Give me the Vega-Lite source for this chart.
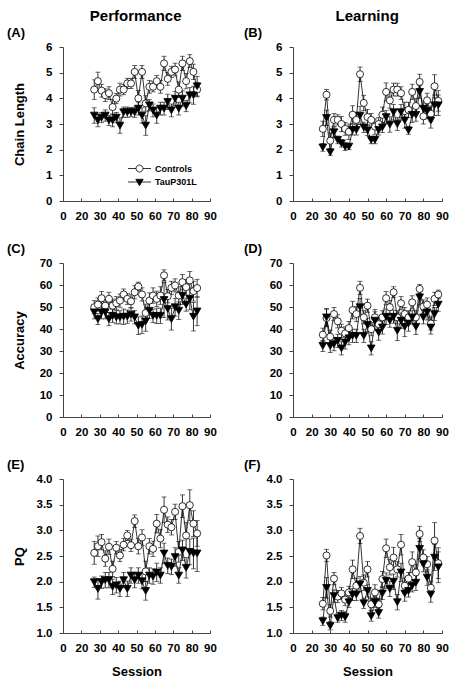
{
"$schema": "https://vega.github.io/schema/vega-lite/v6.json",
"autosize": {"type": "pad"},
"padding": {"left": 7, "top": 8, "right": 0, "bottom": 0},
"background": "white",
"config": {
 "view": {"stroke": null},
 "axis": {"grid": false, "domainColor": "#444", "tickColor": "#444", "domainWidth": 1, "tickWidth": 1, "labelFont": "Liberation Sans", "labelFontWeight": "bold", "labelFontSize": 11.5, "labelColor": "black", "titleFont": "Liberation Sans", "titleFontWeight": "bold", "titleFontSize": 13, "titleColor": "black", "labelOverlap": false},
 "axisX": {"tickSize": -3, "labelPadding": 12.5, "labelFlush": false},
 "axisY": {"tickSize": 4, "labelPadding": 7},
 "title": {"font": "Liberation Sans", "fontWeight": "bold", "color": "black"}
},
"datasets": {
 "A": [
  {"session":27,"group":"Controls","mean":4.34,"sem":0.38},{"session":29,"group":"Controls","mean":4.67,"sem":0.35},{"session":31,"group":"Controls","mean":4.30,"sem":0.25},{"session":33,"group":"Controls","mean":4.12,"sem":0.25},{"session":35,"group":"Controls","mean":4.20,"sem":0.25},{"session":37,"group":"Controls","mean":3.66,"sem":0.30},{"session":39,"group":"Controls","mean":3.99,"sem":0.20},{"session":41,"group":"Controls","mean":4.34,"sem":0.25},{"session":43,"group":"Controls","mean":4.34,"sem":0.20},{"session":45,"group":"Controls","mean":4.58,"sem":0.20},{"session":47,"group":"Controls","mean":4.58,"sem":0.20},{"session":49,"group":"Controls","mean":5.03,"sem":0.25},{"session":51,"group":"Controls","mean":4.00,"sem":0.30},{"session":53,"group":"Controls","mean":5.03,"sem":0.25},{"session":55,"group":"Controls","mean":3.80,"sem":0.30},{"session":57,"group":"Controls","mean":4.45,"sem":0.25},{"session":59,"group":"Controls","mean":4.45,"sem":0.20},{"session":61,"group":"Controls","mean":4.67,"sem":0.22},{"session":63,"group":"Controls","mean":4.45,"sem":0.25},{"session":65,"group":"Controls","mean":5.36,"sem":0.28},{"session":67,"group":"Controls","mean":4.76,"sem":0.25},{"session":69,"group":"Controls","mean":5.03,"sem":0.22},{"session":71,"group":"Controls","mean":5.12,"sem":0.25},{"session":73,"group":"Controls","mean":4.34,"sem":0.30},{"session":75,"group":"Controls","mean":5.36,"sem":0.28},{"session":77,"group":"Controls","mean":4.67,"sem":0.30},{"session":79,"group":"Controls","mean":5.45,"sem":0.25},{"session":81,"group":"Controls","mean":5.03,"sem":0.30},{"session":83,"group":"Controls","mean":4.34,"sem":0.28},
  {"session":27,"group":"TauP301L","mean":3.33,"sem":0.30},{"session":29,"group":"TauP301L","mean":3.14,"sem":0.25},{"session":31,"group":"TauP301L","mean":3.25,"sem":0.20},{"session":33,"group":"TauP301L","mean":3.33,"sem":0.22},{"session":35,"group":"TauP301L","mean":3.14,"sem":0.20},{"session":37,"group":"TauP301L","mean":3.14,"sem":0.25},{"session":39,"group":"TauP301L","mean":3.25,"sem":0.20},{"session":41,"group":"TauP301L","mean":2.94,"sem":0.30},{"session":43,"group":"TauP301L","mean":3.46,"sem":0.20},{"session":45,"group":"TauP301L","mean":3.46,"sem":0.20},{"session":47,"group":"TauP301L","mean":3.46,"sem":0.18},{"session":49,"group":"TauP301L","mean":3.46,"sem":0.20},{"session":51,"group":"TauP301L","mean":3.60,"sem":0.25},{"session":53,"group":"TauP301L","mean":3.33,"sem":0.30},{"session":55,"group":"TauP301L","mean":2.94,"sem":0.38},{"session":57,"group":"TauP301L","mean":3.73,"sem":0.22},{"session":59,"group":"TauP301L","mean":3.53,"sem":0.25},{"session":61,"group":"TauP301L","mean":3.33,"sem":0.30},{"session":63,"group":"TauP301L","mean":3.60,"sem":0.25},{"session":65,"group":"TauP301L","mean":3.60,"sem":0.25},{"session":67,"group":"TauP301L","mean":3.86,"sem":0.30},{"session":69,"group":"TauP301L","mean":3.53,"sem":0.25},{"session":71,"group":"TauP301L","mean":3.99,"sem":0.28},{"session":73,"group":"TauP301L","mean":3.60,"sem":0.25},{"session":75,"group":"TauP301L","mean":3.99,"sem":0.30},{"session":77,"group":"TauP301L","mean":3.70,"sem":0.22},{"session":79,"group":"TauP301L","mean":4.12,"sem":0.30},{"session":81,"group":"TauP301L","mean":4.12,"sem":0.35},{"session":83,"group":"TauP301L","mean":4.47,"sem":0.38}
 ],
 "B": [
  {"session":26,"group":"Controls","mean":2.81,"sem":0.30},{"session":28,"group":"Controls","mean":4.14,"sem":0.20},{"session":30,"group":"Controls","mean":2.35,"sem":0.30},{"session":32,"group":"Controls","mean":3.16,"sem":0.25},{"session":34,"group":"Controls","mean":3.16,"sem":0.20},{"session":36,"group":"Controls","mean":3.00,"sem":0.30},{"session":38,"group":"Controls","mean":2.81,"sem":0.25},{"session":40,"group":"Controls","mean":2.70,"sem":0.30},{"session":42,"group":"Controls","mean":3.36,"sem":0.35},{"session":44,"group":"Controls","mean":3.16,"sem":0.30},{"session":46,"group":"Controls","mean":4.94,"sem":0.28},{"session":48,"group":"Controls","mean":3.82,"sem":0.30},{"session":50,"group":"Controls","mean":3.27,"sem":0.30},{"session":52,"group":"Controls","mean":3.16,"sem":0.25},{"session":54,"group":"Controls","mean":2.90,"sem":0.30},{"session":56,"group":"Controls","mean":3.00,"sem":0.25},{"session":58,"group":"Controls","mean":3.36,"sem":0.30},{"session":60,"group":"Controls","mean":4.25,"sem":0.35},{"session":62,"group":"Controls","mean":3.92,"sem":0.30},{"session":64,"group":"Controls","mean":4.34,"sem":0.25},{"session":66,"group":"Controls","mean":4.34,"sem":0.25},{"session":68,"group":"Controls","mean":4.20,"sem":0.25},{"session":70,"group":"Controls","mean":3.50,"sem":0.35},{"session":72,"group":"Controls","mean":3.55,"sem":0.30},{"session":74,"group":"Controls","mean":4.25,"sem":0.30},{"session":76,"group":"Controls","mean":3.70,"sem":0.30},{"session":78,"group":"Controls","mean":4.64,"sem":0.30},{"session":80,"group":"Controls","mean":3.30,"sem":0.30},{"session":82,"group":"Controls","mean":3.92,"sem":0.28},{"session":84,"group":"Controls","mean":3.40,"sem":0.30},{"session":86,"group":"Controls","mean":4.47,"sem":0.45},{"session":88,"group":"Controls","mean":3.90,"sem":0.40},
  {"session":26,"group":"TauP301L","mean":2.09,"sem":0.15},{"session":28,"group":"TauP301L","mean":3.24,"sem":0.30},{"session":30,"group":"TauP301L","mean":1.90,"sem":0.12},{"session":32,"group":"TauP301L","mean":2.68,"sem":0.20},{"session":34,"group":"TauP301L","mean":2.38,"sem":0.15},{"session":36,"group":"TauP301L","mean":2.25,"sem":0.15},{"session":38,"group":"TauP301L","mean":2.12,"sem":0.15},{"session":40,"group":"TauP301L","mean":2.12,"sem":0.12},{"session":42,"group":"TauP301L","mean":2.77,"sem":0.20},{"session":44,"group":"TauP301L","mean":2.77,"sem":0.20},{"session":46,"group":"TauP301L","mean":3.33,"sem":0.35},{"session":48,"group":"TauP301L","mean":2.87,"sem":0.20},{"session":50,"group":"TauP301L","mean":2.75,"sem":0.20},{"session":52,"group":"TauP301L","mean":2.38,"sem":0.15},{"session":54,"group":"TauP301L","mean":2.38,"sem":0.15},{"session":56,"group":"TauP301L","mean":2.77,"sem":0.20},{"session":58,"group":"TauP301L","mean":2.87,"sem":0.20},{"session":60,"group":"TauP301L","mean":3.27,"sem":0.25},{"session":62,"group":"TauP301L","mean":2.98,"sem":0.30},{"session":64,"group":"TauP301L","mean":3.46,"sem":0.30},{"session":66,"group":"TauP301L","mean":3.00,"sem":0.25},{"session":68,"group":"TauP301L","mean":3.46,"sem":0.30},{"session":70,"group":"TauP301L","mean":3.14,"sem":0.30},{"session":72,"group":"TauP301L","mean":2.75,"sem":0.15},{"session":74,"group":"TauP301L","mean":3.36,"sem":0.30},{"session":76,"group":"TauP301L","mean":3.36,"sem":0.25},{"session":78,"group":"TauP301L","mean":4.25,"sem":0.25},{"session":80,"group":"TauP301L","mean":3.60,"sem":0.30},{"session":82,"group":"TauP301L","mean":3.50,"sem":0.30},{"session":84,"group":"TauP301L","mean":3.14,"sem":0.30},{"session":86,"group":"TauP301L","mean":3.73,"sem":0.40},{"session":88,"group":"TauP301L","mean":3.73,"sem":0.40}
 ],
 "C": [
  {"session":27,"group":"Controls","mean":49.9,"sem":3},{"session":29,"group":"Controls","mean":51.1,"sem":3},{"session":31,"group":"Controls","mean":54.0,"sem":3},{"session":33,"group":"Controls","mean":50.6,"sem":3},{"session":35,"group":"Controls","mean":53.7,"sem":3},{"session":37,"group":"Controls","mean":50.6,"sem":3},{"session":39,"group":"Controls","mean":51.7,"sem":3},{"session":41,"group":"Controls","mean":52.9,"sem":3},{"session":43,"group":"Controls","mean":55.7,"sem":2.5},{"session":45,"group":"Controls","mean":53.7,"sem":2.5},{"session":47,"group":"Controls","mean":52.6,"sem":3},{"session":49,"group":"Controls","mean":56.7,"sem":3},{"session":51,"group":"Controls","mean":59.3,"sem":2},{"session":53,"group":"Controls","mean":55.7,"sem":3},{"session":55,"group":"Controls","mean":47.3,"sem":4},{"session":57,"group":"Controls","mean":52.9,"sem":3.5},{"session":59,"group":"Controls","mean":55.2,"sem":3.5},{"session":61,"group":"Controls","mean":53.7,"sem":3.5},{"session":63,"group":"Controls","mean":55.2,"sem":4},{"session":65,"group":"Controls","mean":64.4,"sem":2.5},{"session":67,"group":"Controls","mean":54.9,"sem":3},{"session":69,"group":"Controls","mean":58.7,"sem":3},{"session":71,"group":"Controls","mean":59.8,"sem":3},{"session":73,"group":"Controls","mean":55.2,"sem":4},{"session":75,"group":"Controls","mean":61.3,"sem":3.5},{"session":77,"group":"Controls","mean":59.0,"sem":3.5},{"session":79,"group":"Controls","mean":62.1,"sem":4},{"session":81,"group":"Controls","mean":57.2,"sem":4.5},{"session":83,"group":"Controls","mean":58.6,"sem":4},
  {"session":27,"group":"TauP301L","mean":47.6,"sem":3},{"session":29,"group":"TauP301L","mean":44.5,"sem":2.5},{"session":31,"group":"TauP301L","mean":47.6,"sem":3},{"session":33,"group":"TauP301L","mean":47.6,"sem":3},{"session":35,"group":"TauP301L","mean":44.5,"sem":3},{"session":37,"group":"TauP301L","mean":46.0,"sem":3},{"session":39,"group":"TauP301L","mean":45.3,"sem":3},{"session":41,"group":"TauP301L","mean":45.3,"sem":3},{"session":43,"group":"TauP301L","mean":45.6,"sem":3.5},{"session":45,"group":"TauP301L","mean":45.6,"sem":3},{"session":47,"group":"TauP301L","mean":46.6,"sem":3},{"session":49,"group":"TauP301L","mean":45.3,"sem":3},{"session":51,"group":"TauP301L","mean":41.5,"sem":4},{"session":53,"group":"TauP301L","mean":41.9,"sem":4},{"session":55,"group":"TauP301L","mean":43.5,"sem":4.5},{"session":57,"group":"TauP301L","mean":48.3,"sem":3.5},{"session":59,"group":"TauP301L","mean":46.0,"sem":3},{"session":61,"group":"TauP301L","mean":46.0,"sem":3.5},{"session":63,"group":"TauP301L","mean":46.0,"sem":3.5},{"session":65,"group":"TauP301L","mean":53.2,"sem":8},{"session":67,"group":"TauP301L","mean":49.1,"sem":5},{"session":69,"group":"TauP301L","mean":44.5,"sem":5},{"session":71,"group":"TauP301L","mean":49.9,"sem":4},{"session":73,"group":"TauP301L","mean":48.3,"sem":4},{"session":75,"group":"TauP301L","mean":55.2,"sem":4},{"session":77,"group":"TauP301L","mean":51.1,"sem":3},{"session":79,"group":"TauP301L","mean":53.7,"sem":5},{"session":81,"group":"TauP301L","mean":45.6,"sem":6.5},{"session":83,"group":"TauP301L","mean":48.0,"sem":6.5}
 ],
 "D": [
  {"session":26,"group":"Controls","mean":37.4,"sem":3},{"session":28,"group":"Controls","mean":45.0,"sem":4},{"session":30,"group":"Controls","mean":36.5,"sem":3},{"session":32,"group":"Controls","mean":46.8,"sem":3},{"session":34,"group":"Controls","mean":43.5,"sem":3},{"session":36,"group":"Controls","mean":39.2,"sem":3},{"session":38,"group":"Controls","mean":38.0,"sem":3},{"session":40,"group":"Controls","mean":40.4,"sem":3},{"session":42,"group":"Controls","mean":48.6,"sem":4},{"session":44,"group":"Controls","mean":46.8,"sem":3.5},{"session":46,"group":"Controls","mean":58.7,"sem":3},{"session":48,"group":"Controls","mean":45.3,"sem":3},{"session":50,"group":"Controls","mean":50.6,"sem":3},{"session":52,"group":"Controls","mean":39.9,"sem":3},{"session":54,"group":"Controls","mean":45.3,"sem":3.5},{"session":56,"group":"Controls","mean":42.2,"sem":3},{"session":58,"group":"Controls","mean":45.3,"sem":3},{"session":60,"group":"Controls","mean":54.0,"sem":3},{"session":62,"group":"Controls","mean":49.9,"sem":3},{"session":64,"group":"Controls","mean":56.7,"sem":2.5},{"session":66,"group":"Controls","mean":45.3,"sem":3},{"session":68,"group":"Controls","mean":51.7,"sem":3},{"session":70,"group":"Controls","mean":46.8,"sem":3},{"session":72,"group":"Controls","mean":45.3,"sem":3},{"session":74,"group":"Controls","mean":52.1,"sem":3},{"session":76,"group":"Controls","mean":45.3,"sem":3},{"session":78,"group":"Controls","mean":58.2,"sem":2},{"session":80,"group":"Controls","mean":50.2,"sem":3},{"session":82,"group":"Controls","mean":51.1,"sem":3},{"session":84,"group":"Controls","mean":42.5,"sem":3},{"session":86,"group":"Controls","mean":53.7,"sem":3},{"session":88,"group":"Controls","mean":55.7,"sem":2},
  {"session":26,"group":"TauP301L","mean":32.3,"sem":2.5},{"session":28,"group":"TauP301L","mean":45.3,"sem":4},{"session":30,"group":"TauP301L","mean":32.3,"sem":3},{"session":32,"group":"TauP301L","mean":33.1,"sem":3},{"session":34,"group":"TauP301L","mean":34.6,"sem":3},{"session":36,"group":"TauP301L","mean":31.2,"sem":3},{"session":38,"group":"TauP301L","mean":33.9,"sem":3},{"session":40,"group":"TauP301L","mean":35.8,"sem":3},{"session":42,"group":"TauP301L","mean":36.9,"sem":3},{"session":44,"group":"TauP301L","mean":36.9,"sem":3},{"session":46,"group":"TauP301L","mean":49.9,"sem":4},{"session":48,"group":"TauP301L","mean":36.9,"sem":3},{"session":50,"group":"TauP301L","mean":41.9,"sem":3},{"session":52,"group":"TauP301L","mean":31.2,"sem":3},{"session":54,"group":"TauP301L","mean":43.8,"sem":4},{"session":56,"group":"TauP301L","mean":38.4,"sem":3.5},{"session":58,"group":"TauP301L","mean":40.7,"sem":3},{"session":60,"group":"TauP301L","mean":45.6,"sem":3.5},{"session":62,"group":"TauP301L","mean":43.8,"sem":3},{"session":64,"group":"TauP301L","mean":45.6,"sem":3},{"session":66,"group":"TauP301L","mean":39.2,"sem":4.5},{"session":68,"group":"TauP301L","mean":43.8,"sem":3.5},{"session":70,"group":"TauP301L","mean":41.0,"sem":4.5},{"session":72,"group":"TauP301L","mean":42.5,"sem":3.5},{"session":74,"group":"TauP301L","mean":45.3,"sem":3},{"session":76,"group":"TauP301L","mean":41.0,"sem":3.5},{"session":78,"group":"TauP301L","mean":54.4,"sem":3.5},{"session":80,"group":"TauP301L","mean":45.3,"sem":3},{"session":82,"group":"TauP301L","mean":47.6,"sem":3.5},{"session":84,"group":"TauP301L","mean":40.7,"sem":3},{"session":86,"group":"TauP301L","mean":46.8,"sem":3},{"session":88,"group":"TauP301L","mean":51.1,"sem":3}
 ],
 "E": [
  {"session":27,"group":"Controls","mean":2.56,"sem":0.22},{"session":29,"group":"Controls","mean":2.69,"sem":0.20},{"session":31,"group":"Controls","mean":2.77,"sem":0.15},{"session":33,"group":"Controls","mean":2.45,"sem":0.15},{"session":35,"group":"Controls","mean":2.68,"sem":0.15},{"session":37,"group":"Controls","mean":2.25,"sem":0.15},{"session":39,"group":"Controls","mean":2.66,"sem":0.12},{"session":41,"group":"Controls","mean":2.51,"sem":0.12},{"session":43,"group":"Controls","mean":2.72,"sem":0.12},{"session":45,"group":"Controls","mean":2.90,"sem":0.10},{"session":47,"group":"Controls","mean":2.71,"sem":0.12},{"session":49,"group":"Controls","mean":3.18,"sem":0.12},{"session":51,"group":"Controls","mean":2.69,"sem":0.15},{"session":53,"group":"Controls","mean":2.86,"sem":0.15},{"session":55,"group":"Controls","mean":2.20,"sem":0.20},{"session":57,"group":"Controls","mean":2.69,"sem":0.15},{"session":59,"group":"Controls","mean":2.64,"sem":0.15},{"session":61,"group":"Controls","mean":3.13,"sem":0.18},{"session":63,"group":"Controls","mean":2.84,"sem":0.18},{"session":65,"group":"Controls","mean":3.40,"sem":0.25},{"session":67,"group":"Controls","mean":3.11,"sem":0.15},{"session":69,"group":"Controls","mean":3.06,"sem":0.15},{"session":71,"group":"Controls","mean":3.36,"sem":0.15},{"session":73,"group":"Controls","mean":2.58,"sem":0.20},{"session":75,"group":"Controls","mean":3.47,"sem":0.22},{"session":77,"group":"Controls","mean":2.90,"sem":0.25},{"session":79,"group":"Controls","mean":3.49,"sem":0.30},{"session":81,"group":"Controls","mean":3.13,"sem":0.25},{"session":83,"group":"Controls","mean":2.94,"sem":0.25},
  {"session":27,"group":"TauP301L","mean":1.99,"sem":0.10},{"session":29,"group":"TauP301L","mean":1.86,"sem":0.20},{"session":31,"group":"TauP301L","mean":1.99,"sem":0.12},{"session":33,"group":"TauP301L","mean":2.03,"sem":0.15},{"session":35,"group":"TauP301L","mean":2.03,"sem":0.15},{"session":37,"group":"TauP301L","mean":1.90,"sem":0.15},{"session":39,"group":"TauP301L","mean":1.93,"sem":0.15},{"session":41,"group":"TauP301L","mean":1.86,"sem":0.15},{"session":43,"group":"TauP301L","mean":2.03,"sem":0.15},{"session":45,"group":"TauP301L","mean":1.86,"sem":0.15},{"session":47,"group":"TauP301L","mean":2.12,"sem":0.15},{"session":49,"group":"TauP301L","mean":2.03,"sem":0.15},{"session":51,"group":"TauP301L","mean":2.12,"sem":0.15},{"session":53,"group":"TauP301L","mean":2.01,"sem":0.15},{"session":55,"group":"TauP301L","mean":1.82,"sem":0.18},{"session":57,"group":"TauP301L","mean":2.12,"sem":0.15},{"session":59,"group":"TauP301L","mean":2.10,"sem":0.15},{"session":61,"group":"TauP301L","mean":2.18,"sem":0.18},{"session":63,"group":"TauP301L","mean":2.12,"sem":0.15},{"session":65,"group":"TauP301L","mean":2.55,"sem":0.20},{"session":67,"group":"TauP301L","mean":2.31,"sem":0.15},{"session":69,"group":"TauP301L","mean":2.29,"sem":0.15},{"session":71,"group":"TauP301L","mean":2.48,"sem":0.18},{"session":73,"group":"TauP301L","mean":2.12,"sem":0.15},{"session":75,"group":"TauP301L","mean":2.61,"sem":0.20},{"session":77,"group":"TauP301L","mean":2.27,"sem":0.20},{"session":79,"group":"TauP301L","mean":2.58,"sem":0.25},{"session":81,"group":"TauP301L","mean":2.55,"sem":0.30},{"session":83,"group":"TauP301L","mean":2.55,"sem":0.35}
 ],
 "F": [
  {"session":26,"group":"Controls","mean":1.57,"sem":0.12},{"session":28,"group":"Controls","mean":2.51,"sem":0.12},{"session":30,"group":"Controls","mean":1.43,"sem":0.12},{"session":32,"group":"Controls","mean":2.06,"sem":0.12},{"session":34,"group":"Controls","mean":1.71,"sem":0.12},{"session":36,"group":"Controls","mean":1.77,"sem":0.12},{"session":38,"group":"Controls","mean":1.65,"sem":0.12},{"session":40,"group":"Controls","mean":1.79,"sem":0.12},{"session":42,"group":"Controls","mean":2.24,"sem":0.18},{"session":44,"group":"Controls","mean":1.92,"sem":0.15},{"session":46,"group":"Controls","mean":2.89,"sem":0.15},{"session":48,"group":"Controls","mean":1.98,"sem":0.15},{"session":50,"group":"Controls","mean":2.24,"sem":0.15},{"session":52,"group":"Controls","mean":1.56,"sem":0.12},{"session":54,"group":"Controls","mean":1.79,"sem":0.15},{"session":56,"group":"Controls","mean":1.56,"sem":0.12},{"session":58,"group":"Controls","mean":2.05,"sem":0.15},{"session":60,"group":"Controls","mean":2.65,"sem":0.18},{"session":62,"group":"Controls","mean":2.28,"sem":0.15},{"session":64,"group":"Controls","mean":2.47,"sem":0.20},{"session":66,"group":"Controls","mean":2.24,"sem":0.15},{"session":68,"group":"Controls","mean":2.72,"sem":0.20},{"session":70,"group":"Controls","mean":1.92,"sem":0.15},{"session":72,"group":"Controls","mean":2.06,"sem":0.12},{"session":74,"group":"Controls","mean":2.38,"sem":0.20},{"session":76,"group":"Controls","mean":2.18,"sem":0.15},{"session":78,"group":"Controls","mean":2.93,"sem":0.15},{"session":80,"group":"Controls","mean":2.47,"sem":0.15},{"session":82,"group":"Controls","mean":2.34,"sem":0.15},{"session":84,"group":"Controls","mean":1.88,"sem":0.12},{"session":86,"group":"Controls","mean":2.80,"sem":0.35},{"session":88,"group":"Controls","mean":2.36,"sem":0.30},
  {"session":26,"group":"TauP301L","mean":1.23,"sem":0.08},{"session":28,"group":"TauP301L","mean":1.88,"sem":0.20},{"session":30,"group":"TauP301L","mean":1.14,"sem":0.08},{"session":32,"group":"TauP301L","mean":1.72,"sem":0.12},{"session":34,"group":"TauP301L","mean":1.29,"sem":0.08},{"session":36,"group":"TauP301L","mean":1.34,"sem":0.10},{"session":38,"group":"TauP301L","mean":1.31,"sem":0.10},{"session":40,"group":"TauP301L","mean":1.60,"sem":0.10},{"session":42,"group":"TauP301L","mean":1.75,"sem":0.12},{"session":44,"group":"TauP301L","mean":1.75,"sem":0.12},{"session":46,"group":"TauP301L","mean":1.95,"sem":0.15},{"session":48,"group":"TauP301L","mean":1.58,"sem":0.10},{"session":50,"group":"TauP301L","mean":1.82,"sem":0.12},{"session":52,"group":"TauP301L","mean":1.33,"sem":0.10},{"session":54,"group":"TauP301L","mean":1.60,"sem":0.10},{"session":56,"group":"TauP301L","mean":1.39,"sem":0.10},{"session":58,"group":"TauP301L","mean":1.77,"sem":0.12},{"session":60,"group":"TauP301L","mean":2.02,"sem":0.15},{"session":62,"group":"TauP301L","mean":1.86,"sem":0.15},{"session":64,"group":"TauP301L","mean":2.00,"sem":0.15},{"session":66,"group":"TauP301L","mean":1.60,"sem":0.15},{"session":68,"group":"TauP301L","mean":2.18,"sem":0.18},{"session":70,"group":"TauP301L","mean":1.77,"sem":0.15},{"session":72,"group":"TauP301L","mean":1.82,"sem":0.12},{"session":74,"group":"TauP301L","mean":1.92,"sem":0.12},{"session":76,"group":"TauP301L","mean":1.98,"sem":0.15},{"session":78,"group":"TauP301L","mean":2.64,"sem":0.20},{"session":80,"group":"TauP301L","mean":2.34,"sem":0.15},{"session":82,"group":"TauP301L","mean":2.08,"sem":0.15},{"session":84,"group":"TauP301L","mean":1.75,"sem":0.15},{"session":86,"group":"TauP301L","mean":2.47,"sem":0.25},{"session":88,"group":"TauP301L","mean":2.28,"sem":0.30}
 ]
},
"spacing": 27,
"bounds": "full",
"resolve": {"scale": {"shape": "independent", "fill": "independent", "stroke": "independent"}, "legend": {"shape": "independent", "fill": "independent", "stroke": "independent"}},
"hconcat": [
 {
  "title": {"text": "Performance", "anchor": "middle", "frame": "bounds", "dx": 24, "fontSize": 15, "offset": 3.5},
  "spacing": 62,
  "bounds": "flush",
  "resolve": {"scale": {"shape": "independent", "fill": "independent", "stroke": "independent"}, "legend": {"shape": "independent", "fill": "independent", "stroke": "independent"}},
  "vconcat": [
   {
    "width": 147, "height": 154,
    "title": {"text": "(A)", "anchor": "start", "frame": "group", "dx": -56, "offset": 1, "fontSize": 13},
    "data": {"name": "A"},
    "encoding": {
     "x": {"field": "session", "type": "quantitative", "scale": {"domain": [10, 90], "nice": false, "zero": false}, "axis": {"values": [10,20,30,40,50,60,70,80,90], "labelExpr": "datum.value == 10 ? '0' : datum.label", "title": null}},
     "y": {"field": "mean", "type": "quantitative", "scale": {"domain": [0, 6], "nice": false}, "axis": {"values": [0,1,2,3,4,5,6], "title": "Chain Length", "titleX": -40, "titleBaseline": "alphabetic"}}
    },
    "layer": [
     {"mark": {"type": "errorbar", "ticks": true, "size": 5, "thickness": 0.8, "color": "black"}, "encoding": {"yError": {"field": "sem"}}},
     {"mark": {"type": "line", "color": "black", "strokeWidth": 0.8}, "encoding": {"detail": {"field": "group"}}},
     {"mark": {"type": "point", "filled": true, "stroke": "black", "strokeWidth": 0.8, "opacity": 1},
      "encoding": {
       "shape": {"condition": {"test": "datum.group === 'Controls'", "value": "circle"}, "value": "triangle-down"},
       "fill": {"condition": {"test": "datum.group === 'Controls'", "value": "white"}, "value": "black"},
       "size": {"condition": {"test": "datum.group === 'Controls'", "value": 50}, "value": 60}
      }},
     {"transform": [{"filter": "false"}],
      "mark": {"type": "point", "filled": false, "strokeWidth": 0.8, "opacity": 1, "size": 144},
      "encoding": {
       "shape": {"field": "group", "type": "nominal", "scale": {"domain": ["Controls", "TauP301L"], "range": ["M-1.92,0H-0.58M0.58,0H1.92M0.58,0A0.58,0.58,0,1,1,-0.58,0A0.58,0.58,0,1,1,0.58,0Z", "M-1.92,0H1.92M-0.62,-0.45L0.62,-0.45L0,0.62Z"]},
        "legend": {"title": null, "orient": "bottom-right", "offset": 13, "labelFont": "Liberation Sans", "labelFontSize": 9, "labelFontWeight": "bold", "labelColor": "black", "symbolSize": 144, "symbolStrokeWidth": 0.8, "labelOffset": 9, "rowPadding": 1.5, "padding": 0}},
       "fill": {"field": "group", "type": "nominal", "scale": {"domain": ["Controls", "TauP301L"], "range": ["white", "black"]},
        "legend": {"title": null, "orient": "bottom-right", "offset": 13, "labelFont": "Liberation Sans", "labelFontSize": 9, "labelFontWeight": "bold", "labelColor": "black", "symbolSize": 144, "symbolStrokeWidth": 0.8, "labelOffset": 9, "rowPadding": 1.5, "padding": 0}},
       "stroke": {"field": "group", "type": "nominal", "scale": {"domain": ["Controls", "TauP301L"], "range": ["black", "black"]},
        "legend": {"title": null, "orient": "bottom-right", "offset": 13, "labelFont": "Liberation Sans", "labelFontSize": 9, "labelFontWeight": "bold", "labelColor": "black", "symbolSize": 144, "symbolStrokeWidth": 0.8, "labelOffset": 9, "rowPadding": 1.5, "padding": 0}}
      }},
     {"data": {"values": [{}]}, "mark": {"type": "point", "shape": "M-0.3,-0.25H0.26V0.25H-0.3Z", "size": 100, "filled": true, "fill": "white", "strokeWidth": 0, "opacity": 1}, "encoding": {"x": {"datum": 14.3}, "y": {"datum": 0}}},
     {"data": {"values": [{}]}, "mark": {"type": "point", "shape": "M-1.2,0.5L-0.34,-0.5M0.26,0.5L1.12,-0.5", "size": 100, "filled": false, "stroke": "black", "strokeWidth": 0.8, "opacity": 1}, "encoding": {"x": {"datum": 14.3}, "y": {"datum": 0}}}
    ]
   },
   {
    "width": 147, "height": 154,
    "title": {"text": "(C)", "anchor": "start", "frame": "group", "dx": -56, "offset": 1, "fontSize": 13},
    "data": {"name": "C"},
    "encoding": {
     "x": {"field": "session", "type": "quantitative", "scale": {"domain": [10, 90], "nice": false, "zero": false}, "axis": {"values": [10,20,30,40,50,60,70,80,90], "labelExpr": "datum.value == 10 ? '0' : datum.label", "title": null}},
     "y": {"field": "mean", "type": "quantitative", "scale": {"domain": [0, 70], "nice": false}, "axis": {"values": [0,10,20,30,40,50,60,70], "title": "Accuracy", "titleX": -40, "titleBaseline": "alphabetic"}}
    },
    "layer": [
     {"mark": {"type": "errorbar", "ticks": true, "size": 5, "thickness": 0.8, "color": "black"}, "encoding": {"yError": {"field": "sem"}}},
     {"mark": {"type": "line", "color": "black", "strokeWidth": 0.8}, "encoding": {"detail": {"field": "group"}}},
     {"mark": {"type": "point", "filled": true, "stroke": "black", "strokeWidth": 0.8, "opacity": 1},
      "encoding": {
       "shape": {"condition": {"test": "datum.group === 'Controls'", "value": "circle"}, "value": "triangle-down"},
       "fill": {"condition": {"test": "datum.group === 'Controls'", "value": "white"}, "value": "black"},
       "size": {"condition": {"test": "datum.group === 'Controls'", "value": 50}, "value": 60}
      }},
     {"data": {"values": [{}]}, "mark": {"type": "point", "shape": "M-0.3,-0.25H0.26V0.25H-0.3Z", "size": 100, "filled": true, "fill": "white", "strokeWidth": 0, "opacity": 1}, "encoding": {"x": {"datum": 14.3}, "y": {"datum": 0}}},
     {"data": {"values": [{}]}, "mark": {"type": "point", "shape": "M-1.2,0.5L-0.34,-0.5M0.26,0.5L1.12,-0.5", "size": 100, "filled": false, "stroke": "black", "strokeWidth": 0.8, "opacity": 1}, "encoding": {"x": {"datum": 14.3}, "y": {"datum": 0}}}
    ]
   },
   {
    "width": 147, "height": 154,
    "title": {"text": "(E)", "anchor": "start", "frame": "group", "dx": -56, "offset": 1, "fontSize": 13},
    "data": {"name": "E"},
    "encoding": {
     "x": {"field": "session", "type": "quantitative", "scale": {"domain": [10, 90], "nice": false, "zero": false}, "axis": {"values": [10,20,30,40,50,60,70,80,90], "labelExpr": "datum.value == 10 ? '0' : datum.label", "title": "Session", "titleY": 42, "titleBaseline": "alphabetic"}},
     "y": {"field": "mean", "type": "quantitative", "scale": {"domain": [1, 4], "nice": false, "zero": false}, "axis": {"values": [1,1.5,2,2.5,3,3.5,4], "format": ".1f", "title": "PQ", "titleX": -40, "titleBaseline": "alphabetic"}}
    },
    "layer": [
     {"mark": {"type": "errorbar", "ticks": true, "size": 5, "thickness": 0.8, "color": "black"}, "encoding": {"yError": {"field": "sem"}}},
     {"mark": {"type": "line", "color": "black", "strokeWidth": 0.8}, "encoding": {"detail": {"field": "group"}}},
     {"mark": {"type": "point", "filled": true, "stroke": "black", "strokeWidth": 0.8, "opacity": 1},
      "encoding": {
       "shape": {"condition": {"test": "datum.group === 'Controls'", "value": "circle"}, "value": "triangle-down"},
       "fill": {"condition": {"test": "datum.group === 'Controls'", "value": "white"}, "value": "black"},
       "size": {"condition": {"test": "datum.group === 'Controls'", "value": 50}, "value": 60}
      }},
     {"data": {"values": [{}]}, "mark": {"type": "point", "shape": "M-0.3,-0.25H0.26V0.25H-0.3Z", "size": 100, "filled": true, "fill": "white", "strokeWidth": 0, "opacity": 1}, "encoding": {"x": {"datum": 14.3}, "y": {"datum": 1}}},
     {"data": {"values": [{}]}, "mark": {"type": "point", "shape": "M-1.2,0.5L-0.34,-0.5M0.26,0.5L1.12,-0.5", "size": 100, "filled": false, "stroke": "black", "strokeWidth": 0.8, "opacity": 1}, "encoding": {"x": {"datum": 14.3}, "y": {"datum": 1}}}
    ]
   }
  ]
 },
 {
  "title": {"text": "Learning", "anchor": "middle", "frame": "bounds", "dx": 21, "fontSize": 15, "offset": 3.5},
  "spacing": 62,
  "bounds": "flush",
  "resolve": {"scale": {"shape": "independent", "fill": "independent", "stroke": "independent"}, "legend": {"shape": "independent", "fill": "independent", "stroke": "independent"}},
  "vconcat": [
   {
    "width": 149, "height": 154,
    "title": {"text": "(B)", "anchor": "start", "frame": "group", "dx": -49, "offset": 1, "fontSize": 13},
    "data": {"name": "B"},
    "encoding": {
     "x": {"field": "session", "type": "quantitative", "scale": {"domain": [10, 90], "nice": false, "zero": false}, "axis": {"values": [10,20,30,40,50,60,70,80,90], "labelExpr": "datum.value == 10 ? '0' : datum.label", "title": null}},
     "y": {"field": "mean", "type": "quantitative", "scale": {"domain": [0, 6], "nice": false}, "axis": {"values": [0,1,2,3,4,5,6], "title": null}}
    },
    "layer": [
     {"mark": {"type": "errorbar", "ticks": true, "size": 5, "thickness": 0.8, "color": "black"}, "encoding": {"yError": {"field": "sem"}}},
     {"mark": {"type": "line", "color": "black", "strokeWidth": 0.8}, "encoding": {"detail": {"field": "group"}}},
     {"mark": {"type": "point", "filled": true, "stroke": "black", "strokeWidth": 0.8, "opacity": 1},
      "encoding": {
       "shape": {"condition": {"test": "datum.group === 'Controls'", "value": "circle"}, "value": "triangle-down"},
       "fill": {"condition": {"test": "datum.group === 'Controls'", "value": "white"}, "value": "black"},
       "size": {"condition": {"test": "datum.group === 'Controls'", "value": 50}, "value": 60}
      }},
     {"data": {"values": [{}]}, "mark": {"type": "point", "shape": "M-0.3,-0.25H0.26V0.25H-0.3Z", "size": 100, "filled": true, "fill": "white", "strokeWidth": 0, "opacity": 1}, "encoding": {"x": {"datum": 14.3}, "y": {"datum": 0}}},
     {"data": {"values": [{}]}, "mark": {"type": "point", "shape": "M-1.2,0.5L-0.34,-0.5M0.26,0.5L1.12,-0.5", "size": 100, "filled": false, "stroke": "black", "strokeWidth": 0.8, "opacity": 1}, "encoding": {"x": {"datum": 14.3}, "y": {"datum": 0}}}
    ]
   },
   {
    "width": 149, "height": 154,
    "title": {"text": "(D)", "anchor": "start", "frame": "group", "dx": -49, "offset": 1, "fontSize": 13},
    "data": {"name": "D"},
    "encoding": {
     "x": {"field": "session", "type": "quantitative", "scale": {"domain": [10, 90], "nice": false, "zero": false}, "axis": {"values": [10,20,30,40,50,60,70,80,90], "labelExpr": "datum.value == 10 ? '0' : datum.label", "title": null}},
     "y": {"field": "mean", "type": "quantitative", "scale": {"domain": [0, 70], "nice": false}, "axis": {"values": [0,10,20,30,40,50,60,70], "title": null}}
    },
    "layer": [
     {"mark": {"type": "errorbar", "ticks": true, "size": 5, "thickness": 0.8, "color": "black"}, "encoding": {"yError": {"field": "sem"}}},
     {"mark": {"type": "line", "color": "black", "strokeWidth": 0.8}, "encoding": {"detail": {"field": "group"}}},
     {"mark": {"type": "point", "filled": true, "stroke": "black", "strokeWidth": 0.8, "opacity": 1},
      "encoding": {
       "shape": {"condition": {"test": "datum.group === 'Controls'", "value": "circle"}, "value": "triangle-down"},
       "fill": {"condition": {"test": "datum.group === 'Controls'", "value": "white"}, "value": "black"},
       "size": {"condition": {"test": "datum.group === 'Controls'", "value": 50}, "value": 60}
      }},
     {"data": {"values": [{}]}, "mark": {"type": "point", "shape": "M-0.3,-0.25H0.26V0.25H-0.3Z", "size": 100, "filled": true, "fill": "white", "strokeWidth": 0, "opacity": 1}, "encoding": {"x": {"datum": 14.3}, "y": {"datum": 0}}},
     {"data": {"values": [{}]}, "mark": {"type": "point", "shape": "M-1.2,0.5L-0.34,-0.5M0.26,0.5L1.12,-0.5", "size": 100, "filled": false, "stroke": "black", "strokeWidth": 0.8, "opacity": 1}, "encoding": {"x": {"datum": 14.3}, "y": {"datum": 0}}}
    ]
   },
   {
    "width": 149, "height": 154,
    "title": {"text": "(F)", "anchor": "start", "frame": "group", "dx": -49, "offset": 1, "fontSize": 13},
    "data": {"name": "F"},
    "encoding": {
     "x": {"field": "session", "type": "quantitative", "scale": {"domain": [10, 90], "nice": false, "zero": false}, "axis": {"values": [10,20,30,40,50,60,70,80,90], "labelExpr": "datum.value == 10 ? '0' : datum.label", "title": "Session", "titleY": 42, "titleBaseline": "alphabetic"}},
     "y": {"field": "mean", "type": "quantitative", "scale": {"domain": [1, 4], "nice": false, "zero": false}, "axis": {"values": [1,1.5,2,2.5,3,3.5,4], "format": ".1f", "title": null}}
    },
    "layer": [
     {"mark": {"type": "errorbar", "ticks": true, "size": 5, "thickness": 0.8, "color": "black"}, "encoding": {"yError": {"field": "sem"}}},
     {"mark": {"type": "line", "color": "black", "strokeWidth": 0.8}, "encoding": {"detail": {"field": "group"}}},
     {"mark": {"type": "point", "filled": true, "stroke": "black", "strokeWidth": 0.8, "opacity": 1},
      "encoding": {
       "shape": {"condition": {"test": "datum.group === 'Controls'", "value": "circle"}, "value": "triangle-down"},
       "fill": {"condition": {"test": "datum.group === 'Controls'", "value": "white"}, "value": "black"},
       "size": {"condition": {"test": "datum.group === 'Controls'", "value": 50}, "value": 60}
      }},
     {"data": {"values": [{}]}, "mark": {"type": "point", "shape": "M-0.3,-0.25H0.26V0.25H-0.3Z", "size": 100, "filled": true, "fill": "white", "strokeWidth": 0, "opacity": 1}, "encoding": {"x": {"datum": 14.3}, "y": {"datum": 1}}},
     {"data": {"values": [{}]}, "mark": {"type": "point", "shape": "M-1.2,0.5L-0.34,-0.5M0.26,0.5L1.12,-0.5", "size": 100, "filled": false, "stroke": "black", "strokeWidth": 0.8, "opacity": 1}, "encoding": {"x": {"datum": 14.3}, "y": {"datum": 1}}}
    ]
   }
  ]
 }
]
}
